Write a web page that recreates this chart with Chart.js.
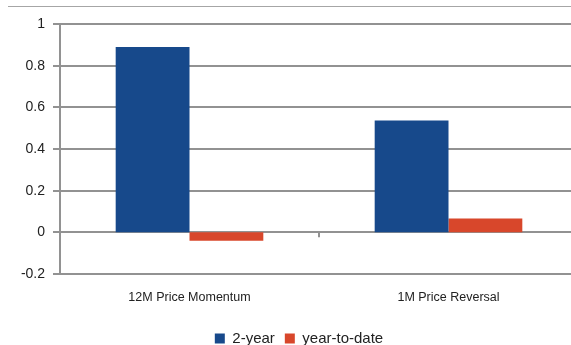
<!DOCTYPE html>
<html>
<head>
<meta charset="utf-8">
<script src="https://cdn.jsdelivr.net/npm/chart.js@4/dist/chart.umd.min.js"></script>
<style>
  html, body { margin: 0; padding: 0; background: #fff; overflow: hidden; }
  #wrap { position: relative; width: 571px; height: 345px; overflow: hidden; }
  #topline { position: absolute; left: 8px; right: 0; top: 6px; border-top: 1px solid #a6a6a6; }
  canvas { position: absolute; left: 0; top: 0; }
</style>
</head>
<body>
<div id="wrap">
  <div id="topline"></div>
  <canvas id="chart" width="590" height="345"></canvas>
</div>
<script>
// values
const categories = ['12M Price Momentum', '1M Price Reversal'];
const twoYear = [0.89, 0.537];
const yearToDate = [-0.04, 0.066];
const seriesNames = ['2-year', 'year-to-date'];

const gridGray = '#929292';

// small category tick on the zero line, between the groups
const zeroTick = {
  id: 'zeroTick',
  afterDatasetsDraw(chart) {
    const { ctx, scales } = chart;
    const y0 = scales.y.getPixelForValue(0);
    const xs = scales.x;
    const mid = (xs.getPixelForValue(0) + xs.getPixelForValue(1)) / 2;
    ctx.save();
    ctx.strokeStyle = gridGray;
    ctx.lineWidth = 2;
    ctx.beginPath();
    ctx.moveTo(mid, y0);
    ctx.lineTo(mid, y0 + 5);
    ctx.stroke();
    ctx.restore();
  }
};

new Chart(document.getElementById('chart'), {
  type: 'bar',
  data: {
    labels: categories,
    datasets: [
      { label: seriesNames[0], data: twoYear, backgroundColor: '#17498b' },
      { label: seriesNames[1], data: yearToDate, backgroundColor: '#d8472b' }
    ]
  },
  options: {
    responsive: false,
    animation: false,
    layout: { padding: { top: 24, right: 12, left: 20, bottom: -11 } },
    datasets: { bar: { barPercentage: 1, categoryPercentage: 0.57 } },
    plugins: {
      tooltip: { enabled: false },
      legend: {
        position: 'bottom',
        labels: {
          boxWidth: 10,
          boxHeight: 10,
          padding: 10,
          color: '#222',
          font: { family: 'Liberation Sans', size: 15 }
        }
      }
    },
    scales: {
      x: {
        grid: { display: false },
        border: { display: false },
        ticks: {
          color: '#222',
          padding: 8,
          font: { family: 'Liberation Sans', size: 12.5 }
        },
        afterFit(scale) { scale.height = 47; }
      },
      y: {
        min: -0.2,
        max: 1,
        ticks: {
          stepSize: 0.2,
          color: '#222',
          padding: 8,
          font: { family: 'Liberation Sans', size: 14 },
          callback: v => Math.round(v * 10) / 10
        },
        grid: { color: gridGray, lineWidth: 2, tickLength: 7 },
        border: { display: true, color: gridGray, width: 2 },
        afterFit(scale) { scale.width = 40; }
      }
    }
  },
  plugins: [zeroTick]
});
</script>
</body>
</html>
